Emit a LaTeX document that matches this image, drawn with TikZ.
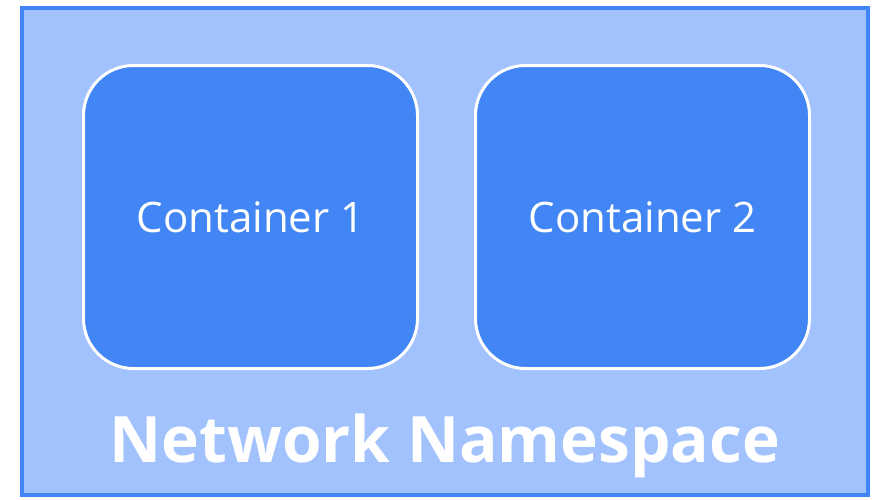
\documentclass[tikz,border=0pt]{standalone}
\usepackage{fontspec}
\setmainfont{Open Sans}
\definecolor{nsfill}{HTML}{A1C2FD}
\definecolor{gblue}{HTML}{4285F4}
\tikzset{
  namespace/.style={draw=gblue,fill=nsfill,line width=3.5pt},
  container/.style={draw=white,fill=gblue,line width=3pt,rounded corners=50pt,
    minimum width=334pt,minimum height=303pt,text=white,font=\fontsize{42}{48}\selectfont},
}
\begin{document}
\begin{tikzpicture}[x=1pt,y=-1pt]
    \useasboundingbox (0,0) rectangle (878,499);
    \draw[namespace] (22,8) rectangle (868,495);
    \node[container] at (250.5,217) (c1) {Container 1};
    \node[container] at (642.5,217) (c2) {Container 2};
    \node[text=white,font=\fontsize{64}{68}\selectfont\bfseries] at (445,446) (ns) {Network Namespace};
\end{tikzpicture}
\end{document}
